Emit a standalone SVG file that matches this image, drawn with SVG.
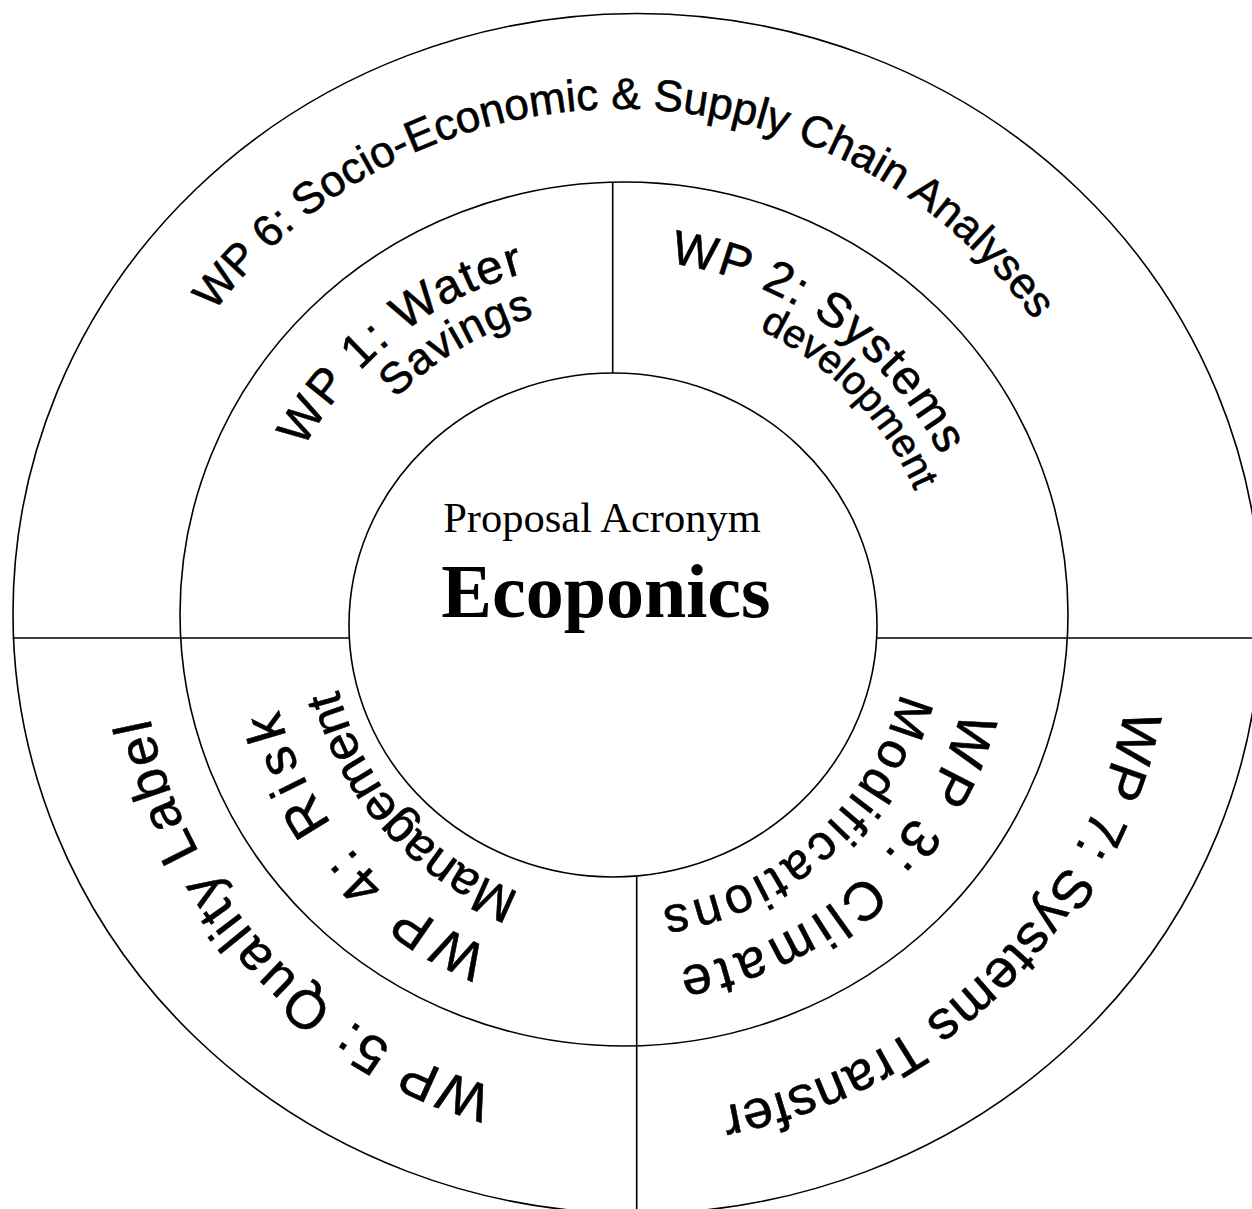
<svg xmlns="http://www.w3.org/2000/svg" width="1252" height="1209" viewBox="0 0 1252 1209">
<style>
.ring{fill:none;stroke:#000;stroke-width:1.6}
.sep{stroke:#000;stroke-width:1.6}
.lbl{font-family:"Liberation Sans",Arial,sans-serif;fill:#000;stroke:#000;stroke-width:0.6}
.ctr{font-family:"Liberation Serif","Times New Roman",serif;fill:#000}
</style>
<defs>
<path id="p6" d="M112.2,603.79 A509,509 0 0 1 1129.99,614.45"/>
<path id="p1a" d="M333.76,838.32 A360,360 0 0 1 898.58,391.98"/>
<path id="p1b" d="M345.84,775.11 A315,315 0 0 1 888.58,455.41"/>
<path id="p2a" d="M330.61,405.86 A360,360 0 0 1 916.69,823.91"/>
<path id="p2b" d="M400.4,384.51 A322,322 0 0 1 847.69,847.69"/>
<path id="p3a" d="M886.41,388.41 A353,353 0 0 1 361.83,860.75"/>
<path id="p3b" d="M840.52,431.66 A290,290 0 0 1 406.19,815.92"/>
<path id="p4a" d="M846.9,890.41 A353,353 0 0 1 383.8,357.67"/>
<path id="p4b" d="M810.26,838.87 A290,290 0 0 1 422.22,407.91"/>
<path id="p5" d="M948.27,981.56 A485,485 0 0 1 289.31,269.95"/>
<path id="p7" d="M996.31,262.38 A505,505 0 0 1 276.04,970.19"/>
</defs>
<g id="rings">
<ellipse id="outer-ring" class="ring" cx="637" cy="613.5" rx="624" ry="600"/>
<ellipse id="middle-ring" class="ring" cx="624" cy="614" rx="444" ry="432"/>
</g>
<g id="connectors">
<line class="sep" x1="612.7" y1="182" x2="612.7" y2="373"/>
<line class="sep" x1="12.7" y1="638" x2="349" y2="638"/>
<line class="sep" x1="877" y1="638" x2="1262" y2="638"/>
<line class="sep" x1="636.7" y1="877" x2="636.7" y2="1215"/>
</g>
<g id="center">
<ellipse class="ring" cx="613" cy="625" rx="264" ry="252"/>
<text class="ctr" x="602" y="532" font-size="42.5" text-anchor="middle">Proposal Acronym</text>
<text class="ctr" x="606" y="617" font-size="76" font-weight="bold" text-anchor="middle">Ecoponics</text>
</g>
<g id="wp6"><text class="lbl" font-size="44"><textPath href="#p6" startOffset="50%" text-anchor="middle">WP 6: Socio-Economic &amp; Supply Chain Analyses</textPath></text></g>
<g id="wp1">
<text class="lbl" font-size="48" letter-spacing="2"><textPath href="#p1a" startOffset="50%" text-anchor="middle">WP 1: Water</textPath></text>
<text class="lbl" font-size="44" letter-spacing="1"><textPath href="#p1b" startOffset="50%" text-anchor="middle">Savings</textPath></text>
</g>
<g id="wp2">
<text class="lbl" font-size="48" letter-spacing="1.5"><textPath href="#p2a" startOffset="50%" text-anchor="middle">WP 2: Systems</textPath></text>
<text class="lbl" font-size="40"><textPath href="#p2b" startOffset="50%" text-anchor="middle">development</textPath></text>
</g>
<g id="wp3">
<text class="lbl" font-size="54" letter-spacing="5"><textPath href="#p3a" startOffset="50%" text-anchor="middle">WP 3: Climate</textPath></text>
<text class="lbl" font-size="50" letter-spacing="4"><textPath href="#p3b" startOffset="50%" text-anchor="middle">Modifications</textPath></text>
</g>
<g id="wp4">
<text class="lbl" font-size="54" letter-spacing="7"><textPath href="#p4a" startOffset="50%" text-anchor="middle">WP 4: Risk</textPath></text>
<text class="lbl" font-size="50" letter-spacing="-1"><textPath href="#p4b" startOffset="50%" text-anchor="middle">Management</textPath></text>
</g>
<g id="wp5"><text class="lbl" font-size="54" letter-spacing="3"><textPath href="#p5" startOffset="50%" text-anchor="middle">WP 5: Quality Label</textPath></text></g>
<g id="wp7"><text class="lbl" font-size="54" letter-spacing="1"><textPath href="#p7" startOffset="50%" text-anchor="middle">WP 7: Systems Transfer</textPath></text></g>
</svg>
